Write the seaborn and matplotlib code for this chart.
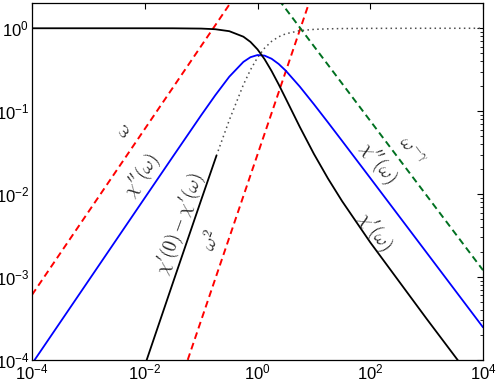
import numpy as np
import pandas as pd
import matplotlib
matplotlib.use('Agg')
import matplotlib.pyplot as plt
import seaborn as sns
from matplotlib.ticker import LogLocator, NullLocator

# values
omega = [1e-4, 1e-3, 1e-2, 0.0316, 0.1, 0.178, 0.316, 0.562, 0.750, 1.0,
         1.334, 1.778, 2.371, 3.162, 5.623, 10.0, 17.78, 31.62, 100.0, 1e3, 1e4]
chi_imag = [9.0e-5, 9.0e-4, 0.0090, 0.0284, 0.0892, 0.1555, 0.2608, 0.3931, 0.4477, 0.4754,
            0.4679, 0.4290, 0.3714, 0.3086, 0.1981, 0.1215, 0.0733, 0.0439, 0.01563, 0.00197, 2.48e-4]
chi_real = [1.0, 1.0, 1.0, 0.9992, 0.9915, 0.9738, 0.9219, 0.7915, 0.6847, 0.5567,
            0.4240, 0.3050, 0.2108, 0.1425, 0.0647, 0.0306, 0.01544, 0.00824, 0.00262, 3.14e-4, 3.93e-5]

# chi'(0) - chi'(w): solid low-frequency piece and dotted full curve
omega_low = [0.0100, 0.0316, 0.1, 0.188]
diff_low = [8.55e-5, 8.55e-4, 0.00847, 0.0294]
omega_dot = [0.200, 0.316, 0.562, 0.750, 1.0, 1.334, 1.778, 2.371, 3.162, 5.623,
             10.0, 17.78, 31.62, 100.0, 1e3, 1e4]
diff_dot = [0.0331, 0.0781, 0.2086, 0.3153, 0.4434, 0.5761, 0.6950, 0.7892, 0.8575, 0.9353,
            0.9694, 0.9846, 0.9918, 0.9974, 0.9997, 1.0]

# power-law guide lines
omega_w1 = [1e-4, 0.4]
guide_w1 = [6.1e-4, 2.44]
omega_w2 = [0.05, 10.0]
guide_w2 = [7.5e-5, 3.0]
omega_wg = [2.4, 1e4]
guide_wg = [2.2, 1.21e-3]

sns.set_style('white')
plt.rcParams['font.family'] = ['Liberation Sans', 'DejaVu Sans']
plt.rcParams['mathtext.fontset'] = 'cm'

fig = plt.figure(figsize=(4.98, 3.83), dpi=100)
ax = fig.add_axes([32 / 498, 23 / 383, 451 / 498, 356.7 / 383])
ax.set_xscale('log')
ax.set_yscale('log')

dash = (0, (3.5, 2.2))
sns.lineplot(x=omega_w1, y=guide_w1, ax=ax, color='red', linestyle=dash, lw=1.4, estimator=None)
sns.lineplot(x=omega_w2, y=guide_w2, ax=ax, color='red', linestyle=dash, lw=1.4, estimator=None)
sns.lineplot(x=omega_wg, y=guide_wg, ax=ax, color='#007020', linestyle=dash, lw=1.4, estimator=None)
sns.lineplot(x=omega_dot, y=diff_dot, ax=ax, color='0.3', linestyle=(0, (1, 2.2)), lw=1.1, estimator=None)
sns.lineplot(x=omega, y=chi_imag, ax=ax, color='blue', lw=1.3, estimator=None)
sns.lineplot(x=omega, y=chi_real, ax=ax, color='black', lw=1.3, estimator=None)
sns.lineplot(x=omega_low, y=diff_low, ax=ax, color='black', lw=1.3, estimator=None)

ax.set_xlim(1e-4, 1e4)
ax.set_ylim(1e-4, 2)
ax.set_xticks([1e-4, 1e-2, 1, 1e2, 1e4])
ax.xaxis.set_minor_locator(NullLocator())
ax.yaxis.set_major_locator(LogLocator(base=10, numticks=10))
ax.yaxis.set_minor_locator(LogLocator(base=10, subs=np.arange(2, 10), numticks=10))
ax.tick_params(which='both', direction='in', top=True, right=True, colors='black',
               labelsize=12, pad=2)
ax.tick_params(which='major', length=4, width=0.8)
ax.tick_params(which='minor', length=2, width=0.6)
for s in ax.spines.values():
    s.set_color('black')
    s.set_linewidth(0.9)

# curve labels, placed in pixel positions of the reference
labels = [
    (r'$\omega$', 125, 131, 55),
    (r"$\chi''(\omega)$", 142, 176, 55),
    (r"$\chi'(0)-\chi'(\omega)$", 180, 224, 70),
    (r'$\omega^2$', 212, 240, 70),
    (r"$\chi''(\omega)$", 378, 163, -53),
    (r'$\omega^{-\gamma}$', 411, 152, -53),
    (r"$\chi'(\omega)$", 375, 232, -54),
]
for txt, px, py, rot in labels:
    fig.text(px / 498, 1 - py / 383, txt, fontsize=13.5, rotation=rot,
             ha='center', va='center', rotation_mode='anchor')

plt.savefig('out.png', dpi=100)
